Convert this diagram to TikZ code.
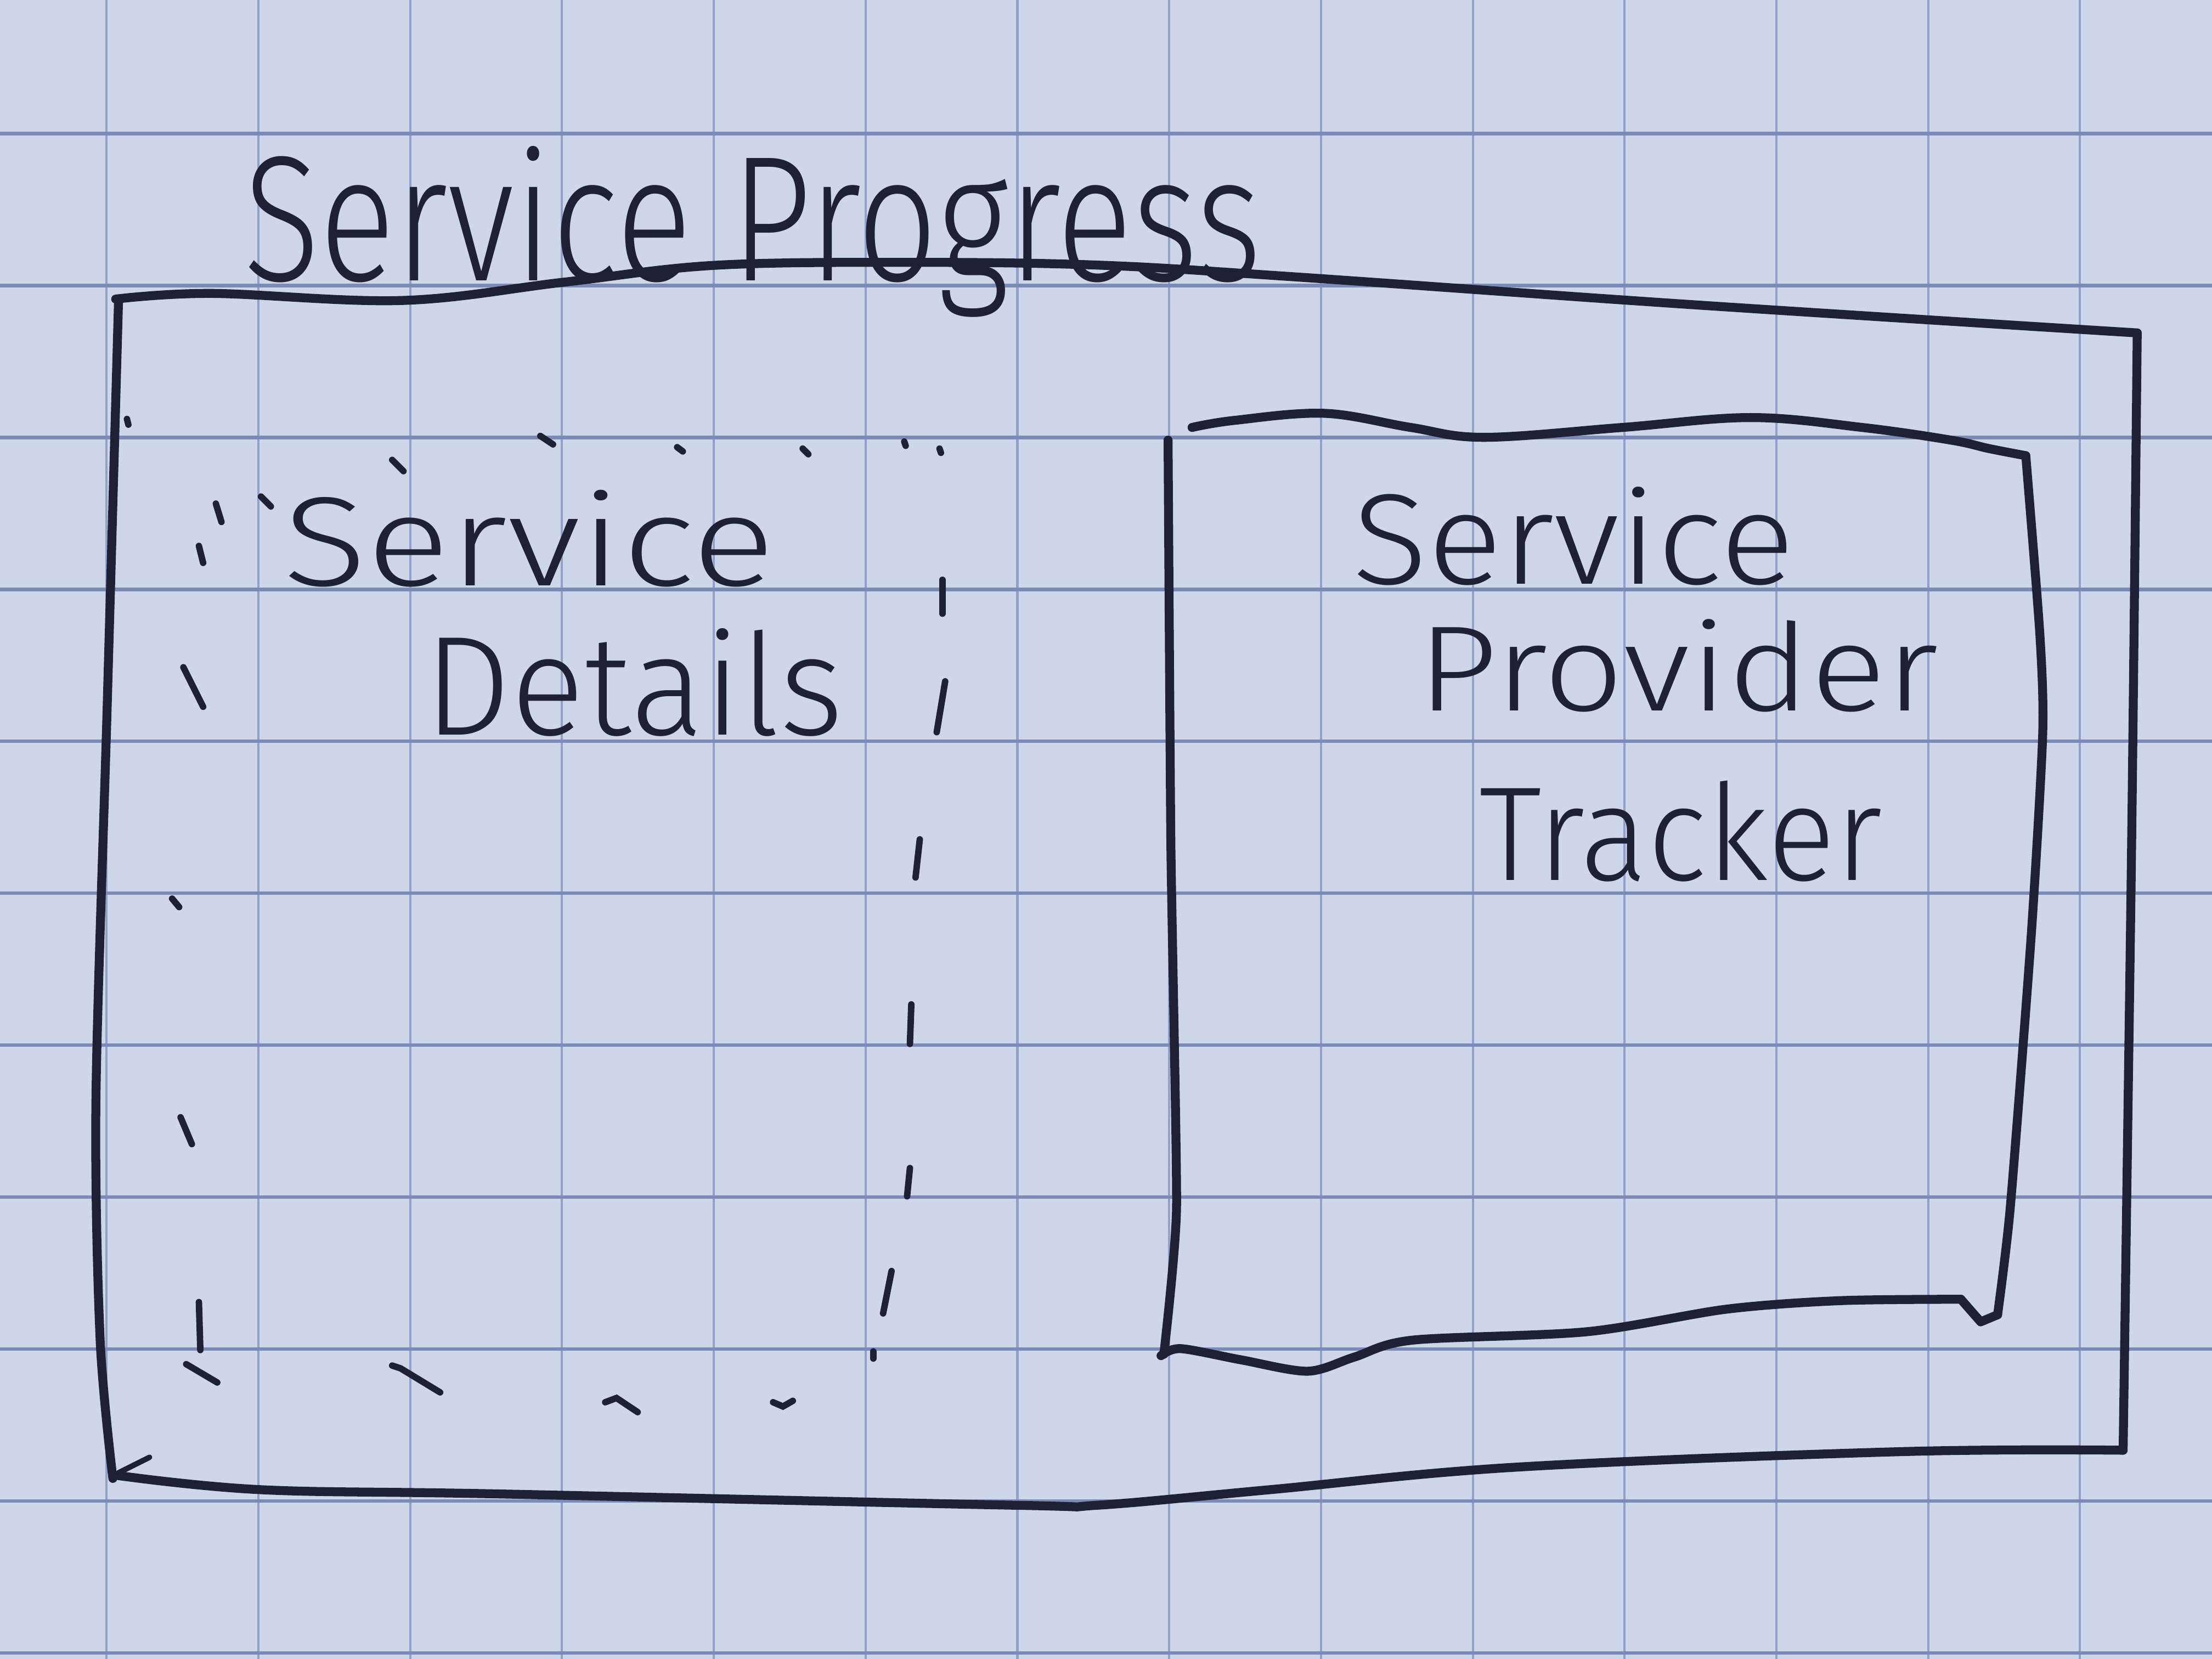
\documentclass[tikz,border=0pt]{standalone}
\usepackage{fontspec}
\newfontfamily\hand{Fira Sans Light}
\definecolor{paper}{RGB}{206,214,234}
\definecolor{gridh}{RGB}{124,138,184}
\definecolor{gridv}{RGB}{146,160,204}
\definecolor{ink}{RGB}{30,32,52}
\tikzset{
  hgrid/.style={draw=gridh, line width=0.7pt},
  vgrid/.style={draw=gridv, line width=0.45pt},
  pen/.style={draw=ink, line width=1.8pt, line cap=round, line join=round},
  dashmark/.style={draw=ink, line width=1.3pt, line cap=round},
  label/.style={inner sep=0pt, text=ink, anchor=base west, font=\hand},
}
\begin{document}
\begin{tikzpicture}[x=0.01cm, y=-0.01cm]
% paper and squared ruling
\fill[paper] (0,0) rectangle (1568,1176);
\useasboundingbox (0,0) rectangle (1568,1176);
\foreach \i in {0,...,15} \draw[vgrid] ({-32+107.6*\i},0) -- ++(0,1176);
\foreach \j in {0,...,11} \draw[hgrid] (0,{-13+107.7*\j}) -- ++(1568,0);

% outer frame: Service Progress
\draw[pen] plot[smooth, tension=0.6] coordinates {(82,212) (150,208) (285,213) (400,200) (508,188) (650,186) (780,188) (914,196) (1200,216) (1515,236)};
\draw[pen] plot[smooth] coordinates {(1515,236) (1511,600) (1505,1028)};
\draw[pen] plot[smooth, tension=0.6] coordinates {(1505,1028) (1348,1029) (1075,1040) (900,1056) (778,1067) (719,1067) (354,1059) (185,1056) (84,1046)};
\draw[pen] plot[smooth] coordinates {(84,214) (76,500) (68,780) (71,950) (80,1048)};
\draw[pen, line width=1.1pt] (84,1044) -- (106,1033);

% inner frame: Service Provider Tracker
\draw[pen] plot[smooth, tension=0.6] coordinates {(845,303) (875,298) (939,293) (1000,303) (1052,310) (1150,303) (1241,296) (1320,303) (1383,312) (1410,318) (1436,323)};
\draw[pen] plot[smooth, tension=0.4] coordinates {(1436,323) (1446,450) (1448,520) (1440,661) (1425,856) (1416,932)};
\draw[pen] (1416,932) -- (1404,937) -- (1390,921);
\draw[pen] plot[smooth, tension=0.5] coordinates {(1390,921) (1304,922) (1224,928) (1125,944) (1001,950) (960,962) (927,972) (880,964) (837,956) (823,961)};
\draw[pen] plot[smooth, tension=0.3] coordinates {(828,312) (830,600) (834,856) (825,960)};

% dashed frame: Service Details
\foreach \xa/\ya/\xb/\yb in {90/297/91/301, 278/326/286/334, 383/309/392/315, 480/317/484/320, 569/318/573/322, 641/313/642/316, 666/318/667/321,
  153/357/157/370, 185/352/192/359, 141/387/144/399, 130/473/144/501, 122/637/127/643, 128/792/136/811, 141/923/142/957, 132/967/154/980,
  668/411/668/435, 670/483/664/519, 652/595/649/622, 646/712/645/740, 645/828/643/848, 632/901/626/931, 619/958/619/963}
  \draw[dashmark] (\xa,\ya) -- (\xb,\yb);
\draw[dashmark] (278,968) -- (284,970) -- (312,987);
\draw[dashmark] (429,994) -- (437,991) -- (452,1001);
\draw[dashmark] (548,994) -- (555,997) -- (562,993);

% labels
\node[label, font=\hand\fontsize{36}{42}\selectfont] (title) at (172,199) {\scalebox{0.79}[1]{Service Progress}};
\node[label, font=\hand\fontsize{25.6}{30}\selectfont] (sdService) at (200,415) {\scalebox{1.22}[1]{Service}};
\node[label, font=\hand\fontsize{28.5}{34}\selectfont] (sdDetails) at (300,521) {\scalebox{0.97}[1]{Details}};
\node[label, font=\hand\fontsize{26}{30}\selectfont] (spService) at (958,414) {\scalebox{1.08}[1]{Service}};
\node[label, font=\hand\fontsize{24.5}{30}\selectfont] (spProvider) at (1004,504) {\scalebox{1.16}[1]{Provider}};
\node[label, font=\hand\fontsize{27}{32}\selectfont] (spTracker) at (1048,624) {\scalebox{0.94}[1]{Tracker}};
\end{tikzpicture}
\end{document}
